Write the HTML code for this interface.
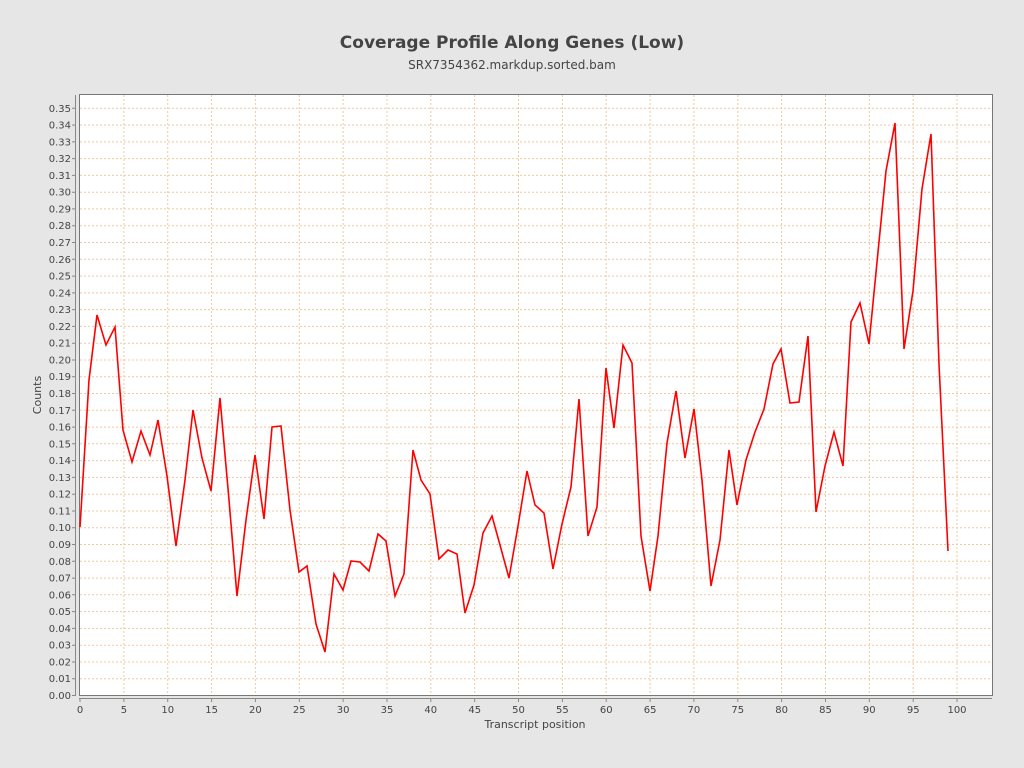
<!DOCTYPE html>
<html><head><meta charset="utf-8"><style>
html,body{margin:0;padding:0;background:#e6e6e6;}
svg{display:block;font-family:"DejaVu Sans","Liberation Sans",sans-serif;}
</style></head><body>
<svg width="1024" height="768" viewBox="0 0 1024 768" xmlns="http://www.w3.org/2000/svg">
<rect width="1024" height="768" fill="#e6e6e6"/>
<text x="512" y="48" text-anchor="middle" font-size="17" font-weight="bold" fill="#444">Coverage Profile Along Genes (Low)</text>
<text x="512" y="69" text-anchor="middle" font-size="12" fill="#444">SRX7354362.markdup.sorted.bam</text>
<rect x="79.5" y="94.5" width="913" height="601" fill="#fff"/>
<g stroke="#f0c8a0" stroke-width="1" stroke-dasharray="2,2">
<path d="M80 678.7H992M80 662H992M80 645.2H992M80 628.4H992M80 611.6H992M80 594.8H992M80 578.1H992M80 561.3H992M80 544.5H992M80 527.7H992M80 511H992M80 494.2H992M80 477.4H992M80 460.6H992M80 443.8H992M80 427.1H992M80 410.3H992M80 393.5H992M80 376.7H992M80 360H992M80 343.2H992M80 326.4H992M80 309.6H992M80 292.9H992M80 276.1H992M80 259.3H992M80 242.5H992M80 225.7H992M80 208.9H992M80 192.2H992M80 175.4H992M80 158.6H992M80 141.9H992M80 125.1H992M80 108.3H992"/>
<path d="M123.9 95V695M167.7 95V695M211.6 95V695M255.4 95V695M299.3 95V695M343.1 95V695M387 95V695M430.8 95V695M474.7 95V695M518.5 95V695M562.4 95V695M606.2 95V695M650.1 95V695M693.9 95V695M737.8 95V695M781.6 95V695M825.5 95V695M869.3 95V695M913.2 95V695M957 95V695"/>
</g>
<rect x="79.5" y="94.5" width="913" height="601" fill="none" stroke="#777" stroke-width="1"/>
<g stroke="#888" stroke-width="1">
<path d="M75.5 95V696M79 698.5H992"/>
<path d="M72 695.5h3.5M72 678.7h3.5M72 662h3.5M72 645.2h3.5M72 628.4h3.5M72 611.6h3.5M72 594.8h3.5M72 578.1h3.5M72 561.3h3.5M72 544.5h3.5M72 527.7h3.5M72 511h3.5M72 494.2h3.5M72 477.4h3.5M72 460.6h3.5M72 443.8h3.5M72 427.1h3.5M72 410.3h3.5M72 393.5h3.5M72 376.7h3.5M72 360h3.5M72 343.2h3.5M72 326.4h3.5M72 309.6h3.5M72 292.9h3.5M72 276.1h3.5M72 259.3h3.5M72 242.5h3.5M72 225.7h3.5M72 208.9h3.5M72 192.2h3.5M72 175.4h3.5M72 158.6h3.5M72 141.9h3.5M72 125.1h3.5M72 108.3h3.5"/>
<path d="M80 698.5v3.5M123.9 698.5v3.5M167.7 698.5v3.5M211.6 698.5v3.5M255.4 698.5v3.5M299.3 698.5v3.5M343.1 698.5v3.5M387 698.5v3.5M430.8 698.5v3.5M474.7 698.5v3.5M518.5 698.5v3.5M562.4 698.5v3.5M606.2 698.5v3.5M650.1 698.5v3.5M693.9 698.5v3.5M737.8 698.5v3.5M781.6 698.5v3.5M825.5 698.5v3.5M869.3 698.5v3.5M913.2 698.5v3.5M957 698.5v3.5"/>
</g>
<g font-size="10" fill="#444" text-anchor="end">
<text x="71" y="699">0.00</text><text x="71" y="682">0.01</text><text x="71" y="665.5">0.02</text><text x="71" y="648.7">0.03</text><text x="71" y="632">0.04</text><text x="71" y="615">0.05</text><text x="71" y="598.3">0.06</text><text x="71" y="581.6">0.07</text><text x="71" y="564.8">0.08</text><text x="71" y="548">0.09</text><text x="71" y="531.2">0.10</text><text x="71" y="514.5">0.11</text><text x="71" y="497.7">0.12</text><text x="71" y="481">0.13</text><text x="71" y="464">0.14</text><text x="71" y="447.3">0.15</text><text x="71" y="430.6">0.16</text><text x="71" y="413.8">0.17</text><text x="71" y="397">0.18</text><text x="71" y="380.2">0.19</text><text x="71" y="363.5">0.20</text><text x="71" y="346.7">0.21</text><text x="71" y="330">0.22</text><text x="71" y="313">0.23</text><text x="71" y="296.4">0.24</text><text x="71" y="279.6">0.25</text><text x="71" y="262.8">0.26</text><text x="71" y="246">0.27</text><text x="71" y="229.2">0.28</text><text x="71" y="212.4">0.29</text><text x="71" y="195.7">0.30</text><text x="71" y="179">0.31</text><text x="71" y="162">0.32</text><text x="71" y="145.4">0.33</text><text x="71" y="128.6">0.34</text><text x="71" y="111.8">0.35</text>
</g>
<g font-size="10" fill="#444" text-anchor="middle">
<text x="80" y="713">0</text><text x="123.9" y="713">5</text><text x="167.7" y="713">10</text><text x="211.6" y="713">15</text><text x="255.4" y="713">20</text><text x="299.3" y="713">25</text><text x="343.1" y="713">30</text><text x="387" y="713">35</text><text x="430.8" y="713">40</text><text x="474.7" y="713">45</text><text x="518.5" y="713">50</text><text x="562.4" y="713">55</text><text x="606.2" y="713">60</text><text x="650.1" y="713">65</text><text x="693.9" y="713">70</text><text x="737.8" y="713">75</text><text x="781.6" y="713">80</text><text x="825.5" y="713">85</text><text x="869.3" y="713">90</text><text x="913.2" y="713">95</text><text x="957" y="713">100</text>
</g>
<text x="535" y="728" text-anchor="middle" font-size="11" fill="#444">Transcript position</text>
<text transform="translate(41,395) rotate(-90)" text-anchor="middle" font-size="11" fill="#444">Counts</text>
<polyline fill="none" stroke="#f00" stroke-width="1.6" stroke-linejoin="miter" points="80,527 89,380 97,315 106,345 115,327 123,430 132,462 141,431 150,455 158,420 167,476 176,546 185,480 193,410 202,458 211,491 220,398 229,500 237,596 246,520 255,455 264,519 272,427 281,426 290,510 299,572 307,566 316,624 325,652 334,574 343,590 351,561 360,562 369,571 378,534 386,541 395,596 404,574 413,450 421,480 430,494 439,559 448,550 457,554 465,613 474,585 483,533 492,516 500,545 509,578 518,526 527,471 535,505 544,513 553,569 562,524 571,487 579,399 588,536 597,507 606,368 614,428 623,345 632,363 641,536 650,591 658,536 667,443 676,391 685,458 694,409 702,480 711,586 720,540 729,450 737,505 746,460 755,432 764,409 773,364 781,349 790,403 799,402 808,336 816,512 825,466 834,432 843,466 851,322 860,303 869,344 878,252 886,171 895,123 904,349 913,291 922,189 931,134 939,364 948,551"/>
</svg>
</body></html>
